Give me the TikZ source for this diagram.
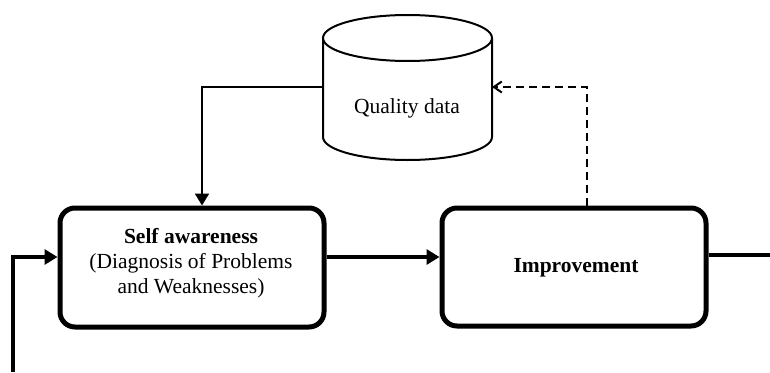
\documentclass[tikz,border=0pt]{standalone}
\usepackage{fontspec}
\setmainfont{Liberation Serif}
\usetikzlibrary{arrows.meta}
\begin{document}
\begin{tikzpicture}[x=1pt,y=-1pt,
  procbox/.style={draw,line width=5pt,rounded corners=15pt,minimum width=264pt,minimum height=119pt,inner sep=0pt},
  lbl/.style={font=\fontsize{21.5}{25}\selectfont,align=center,inner sep=0pt},
  thickarrow/.style={line width=4pt,-{Triangle[length=13pt,width=15pt]}},
  thinarrow/.style={line width=2pt,-{Triangle[length=12pt,width=14pt]}},
  dasharrow/.style={line width=2pt,dash pattern=on 8pt off 5pt,-{Straight Barb[length=8pt,width=11pt]}},
  cyl/.style={draw,line width=2pt,fill=white}]
\useasboundingbox (0,0) rectangle (770,372);
% boxes
\node[procbox] (sa) at (192,267.5) {};
\node[procbox,minimum height=118pt] (im) at (574,267) {};
\node[lbl] (satext) at (191,263) {\textbf{Self awareness}\\(Diagnosis of Problems\\and Weaknesses)};
\node[lbl,anchor=base] (imtext) at (576,272) {\textbf{Improvement}};
% cylinder
\draw[cyl] (323,38) -- (323,137) arc[start angle=180,end angle=360,x radius=84.5,y radius=-23] -- (492,38);
\draw[cyl] (407.5,38) ellipse[x radius=84.5,y radius=23];
\node[lbl,anchor=base] (qd) at (407,113) {Quality data};
\coordinate (cylL) at (323,87);
\coordinate (cylR) at (492,87);
\coordinate (in) at (13,372);
\coordinate (out) at (770,255);
% connectors
\draw[thinarrow] (cylL) -| ([xshift=10pt]sa.north);
\draw[dasharrow] ([xshift=13pt]im.north) |- (cylR);
\draw[thickarrow] ([yshift=10.5pt]sa.east) -- ([yshift=10pt]im.west);
\draw[line width=4pt] ([yshift=12pt]im.east) -- (out);
\draw[thickarrow] (in) |- ([yshift=10.5pt]sa.west);
\end{tikzpicture}
\end{document}
